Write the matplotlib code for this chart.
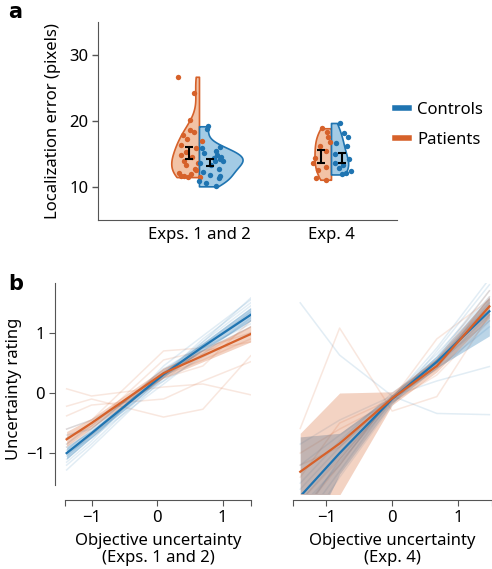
import numpy as np
import matplotlib
matplotlib.use("Agg")
import matplotlib.pyplot as plt
from matplotlib.lines import Line2D

plt.rcParams['font.family'] = ['Noto Sans', 'DejaVu Sans']
plt.rcParams['font.size'] = 12

BLUE = '#1f74b1'
ORANGE = '#d6612a'
BLUE_FILL = '#a3cbe5'
ORANGE_FILL = '#f2c3a6'

# ---------------- Panel a data ----------------
groups = ['Exps. 1 and 2', 'Exp. 4']
pat_e12 = [26.7, 24.3, 20.2, 18.6, 18.3, 17.9, 17.2, 16.9, 16.3, 15.9, 15.3, 14.9,
           14.6, 14.0, 13.6, 13.3, 12.8, 12.6, 12.1, 11.9, 11.6, 11.5, 11.5, 11.6]
pat_e12_jit = [-0.16, -0.04, -0.07, -0.07, -0.04, -0.12, -0.09, 0.02, -0.14, -0.02, -0.10, -0.14,
               -0.05, -0.11, -0.01, -0.10, -0.03, -0.02, -0.15, -0.06, -0.14, -0.08, 0.01, -0.11]
ctl_e12 = [19.2, 18.8, 16.1, 15.9, 15.4, 15.1, 14.8, 14.6, 14.4, 14.2, 14.0, 13.9,
           13.6, 13.4, 12.8, 12.2, 11.8, 11.6, 11.3, 10.9, 10.6, 10.1]
ctl_e12_jit = [0.07, 0.06, 0.16, 0.02, 0.13, 0.04, 0.14, 0.17, 0.11, 0.16, 0.12, 0.18,
               0.01, 0.09, 0.15, 0.03, 0.08, 0.16, 0.15, 0.00, 0.05, 0.13]
pat_e4 = [18.9, 18.4, 17.6, 16.8, 16.2, 15.4, 14.4, 13.7, 13.1, 12.6, 11.3, 11.1]
pat_e4_jit = [-0.07, -0.03, -0.02, -0.01, -0.08, -0.04, -0.12, -0.14, -0.04, -0.10, -0.11, -0.04]
ctl_e4 = [19.7, 18.2, 17.6, 16.6, 16.2, 15.0, 14.2, 13.6, 13.3, 12.9, 12.5, 12.1, 11.9]
ctl_e4_jit = [0.07, 0.10, 0.13, 0.04, 0.12, 0.03, 0.14, 0.03, 0.09, 0.06, 0.15, 0.11, 0.08]
pat_mean = [15.2, 14.6]
pat_sem = [0.9, 1.0]
ctl_mean = [13.7, 14.4]
ctl_sem = [0.5, 0.7]

# ---------------- Panel b data ----------------
xb_left = [-1.38, -1.0, 0.1, 0.7, 1.43]
ctl_mean_l = [-1.0, -0.67, 0.31, 0.77, 1.3]
ctl_lo_l = [-1.1, -0.74, 0.26, 0.71, 1.2]
ctl_hi_l = [-0.9, -0.61, 0.36, 0.84, 1.42]
pat_mean_l = [-0.77, -0.5, 0.33, 0.62, 0.98]
pat_lo_l = [-0.88, -0.58, 0.25, 0.52, 0.85]
pat_hi_l = [-0.64, -0.42, 0.41, 0.72, 1.12]
ctl_ind_l = [
    [-1.28, -0.9, 0.25, 0.85, 1.58],
    [-1.2, -0.85, 0.3, 0.9, 1.5],
    [-1.1, -0.75, 0.35, 0.85, 1.45],
    [-1.05, -0.7, 0.2, 0.75, 1.35],
    [-0.95, -0.6, 0.4, 0.8, 1.3],
    [-0.9, -0.65, 0.28, 0.7, 1.2],
    [-0.85, -0.55, 0.35, 0.75, 1.15],
    [-0.75, -0.5, 0.3, 0.7, 1.1],
    [-0.6, -0.45, 0.2, 0.6, 1.0],
    [-1.15, -0.8, 0.45, 0.95, 1.55],
    [-1.0, -0.75, 0.15, 0.65, 1.25],
    [-0.7, -0.6, 0.38, 0.8, 1.4],
]
pat_ind_l = [
    [0.07, -0.05, 0.1, 0.15, -0.03],
    [-0.22, -0.1, -0.4, -0.27, 0.62],
    [-0.38, -0.2, -0.1, 0.2, 0.52],
    [-0.6, -0.45, 0.7, 0.75, 1.0],
    [-0.9, -0.6, 0.4, 0.65, 1.1],
    [-1.0, -0.7, 0.3, 0.55, 0.9],
    [-0.75, -0.55, 0.55, 0.7, 0.85],
    [-0.85, -0.5, 0.25, 0.45, 1.2],
]

xb_right = [-1.4, -0.8, 0.0, 0.68, 1.48]
ctl_mean_r = [-1.72, -1.0, -0.1, 0.52, 1.36]
ctl_lo_r = [-2.7, -1.35, -0.17, 0.42, 0.95]
ctl_hi_r = [-0.73, -0.67, -0.03, 0.62, 1.6]
pat_mean_r = [-1.31, -0.84, -0.09, 0.45, 1.44]
pat_lo_r = [-1.95, -1.7, -0.2, 0.35, 1.25]
pat_hi_r = [-0.67, 0.0, 0.02, 0.58, 1.6]
ctl_ind_r = [
    [1.5, 0.63, -0.05, -0.34, -0.36],
    [-0.85, -0.45, -0.05, 0.2, 0.44],
    [-2.2, -1.3, -0.1, 0.6, 1.7],
    [-2.0, -1.15, -0.15, 0.5, 1.5],
    [-1.9, -1.2, -0.05, 0.65, 1.6],
    [-1.8, -1.05, -0.12, 0.55, 1.45],
    [-1.6, -0.9, -0.1, 0.45, 1.3],
    [-2.4, -1.4, -0.2, 0.7, 1.8],
    [-1.5, -0.8, 0.0, 0.5, 1.2],
    [-1.2, -0.7, -0.08, 0.4, 1.1],
    [-2.1, -1.1, -0.1, 0.75, 1.9],
]
pat_ind_r = [
    [-0.59, 1.08, -0.3, -0.06, 1.3],
    [-1.4, -0.5, -0.1, 0.9, 1.55],
    [-1.8, -1.1, -0.1, 0.4, 1.6],
    [-1.2, -0.9, -0.05, 0.5, 1.45],
    [-1.0, -0.6, -0.15, 0.3, 1.2],
    [-2.0, -1.2, -0.05, 0.55, 1.7],
]

W, H = 492, 569
fig = plt.figure(figsize=(W / 100, H / 100), dpi=100)


def box(l, t, r, b):
    return [l / W, 1 - b / H, (r - l) / W, (b - t) / H]


# ---------------- Panel a ----------------
axa = fig.add_axes(box(98, 22, 397, 220))
pos = [0, 1]
pat_sets = [pat_e12, pat_e4]
ctl_sets = [ctl_e12, ctl_e4]
pat_w = [0.42, 0.25]
ctl_w = [0.66, 0.26]
bws = ['scott', 0.7]
for i in range(2):
    vp = axa.violinplot([pat_sets[i]], positions=[pos[i]], widths=pat_w[i], side='low',
                        showextrema=False, bw_method=bws[i])
    for b in vp['bodies']:
        b.set_facecolor(ORANGE_FILL); b.set_edgecolor(ORANGE); b.set_alpha(1)
        b.set_linewidth(1.2); b.set_zorder(1)
    vp = axa.violinplot([ctl_sets[i]], positions=[pos[i]], widths=ctl_w[i], side='high',
                        showextrema=False, bw_method=bws[i])
    for b in vp['bodies']:
        b.set_facecolor(BLUE_FILL); b.set_edgecolor(BLUE); b.set_alpha(1)
        b.set_linewidth(1.2); b.set_zorder(1)

axa.scatter(np.array(pat_e12_jit) + pos[0], pat_e12, s=15, color=ORANGE, zorder=3, lw=0)
axa.scatter(np.array(ctl_e12_jit) + pos[0], ctl_e12, s=15, color=BLUE, zorder=3, lw=0)
axa.scatter(np.array(pat_e4_jit) + pos[1], pat_e4, s=15, color=ORANGE, zorder=3, lw=0)
axa.scatter(np.array(ctl_e4_jit) + pos[1], ctl_e4, s=15, color=BLUE, zorder=3, lw=0)
axa.errorbar(np.array(pos) - 0.075, pat_mean, yerr=pat_sem, fmt='none', ecolor='black',
             elinewidth=1.5, capsize=3, capthick=1.5, zorder=4)
axa.errorbar(np.array(pos) + 0.08, ctl_mean, yerr=ctl_sem, fmt='none', ecolor='black',
             elinewidth=1.5, capsize=3, capthick=1.5, zorder=4)

axa.set_xlim(-0.765, 1.5)
axa.set_ylim(5, 35)
axa.set_yticks([10, 20, 30])
axa.set_xticks(pos)
axa.set_xticklabels(groups)
axa.tick_params(axis='x', length=0, pad=5)
axa.tick_params(axis='y', length=4, width=1, color='#555555', pad=3)
axa.set_ylabel('Localization error (pixels)', labelpad=6)
for s in ['top', 'right']:
    axa.spines[s].set_visible(False)
for s in ['left', 'bottom']:
    axa.spines[s].set_color('#555555')

handles = [Line2D([], [], color=BLUE, lw=4), Line2D([], [], color=ORANGE, lw=4)]
fig.legend(handles, ['Controls', 'Patients'], loc='center left',
           bbox_to_anchor=(395 / W, 1 - 125 / H), frameon=False, handlelength=0.85,
           handletextpad=0.5, labelspacing=0.85, fontsize=12, borderpad=0,
           borderaxespad=0)

fig.text(8 / W, 1 - 18 / H, 'a', fontsize=15, fontweight='bold', va='baseline',
         family='DejaVu Sans')
fig.text(8 / W, 1 - 290 / H, 'b', fontsize=15, fontweight='bold', va='baseline',
         family='DejaVu Sans')

# ---------------- Panel b ----------------
YLIM = (-1.68, 1.83)


def panel_b(ax, xs, cm, clo, chi, pm, plo, phi, cind, pind):
    for row in pind:
        ax.plot(xs, row, color=ORANGE, alpha=0.15, lw=1.1, zorder=1)
    for row in cind:
        ax.plot(xs, row, color=BLUE, alpha=0.13, lw=1.1, zorder=1)
    ax.fill_between(xs, clo, chi, color=BLUE, alpha=0.3, lw=0, zorder=2)
    ax.fill_between(xs, plo, phi, color=ORANGE, alpha=0.28, lw=0, zorder=2)
    ax.plot(xs, cm, color=BLUE, lw=1.6, zorder=3)
    ax.plot(xs, pm, color=ORANGE, lw=1.6, zorder=4)
    ax.set_ylim(*YLIM)
    for s in ['top', 'right']:
        ax.spines[s].set_visible(False)
    ax.spines['bottom'].set_position(('outward', 4))
    ax.spines['bottom'].set_color('#555555')
    ax.spines['left'].set_color('#555555')
    ax.tick_params(length=4, color='#555555')


axl = fig.add_axes(box(65, 283, 251, 494))
panel_b(axl, xb_left, ctl_mean_l, ctl_lo_l, ctl_hi_l, pat_mean_l, pat_lo_l, pat_hi_l,
        ctl_ind_l, pat_ind_l)
axl.set_xlim(-1.405, 1.435)
axl.set_xticks([-1.405, -1, 0, 1, 1.435])
axl.set_xticklabels(['', '−1', '0', '1', ''])
axl.set_yticks([-1, 0, 1])
axl.set_yticklabels(['−1', '0', '1'])
axl.spines['left'].set_position(('outward', 7))
axl.spines['left'].set_bounds(-1.53, 1.83)
axl.set_ylabel('Uncertainty rating', labelpad=3)
axl.set_xlabel('Objective uncertainty\n(Exps. 1 and 2)', linespacing=1.05, labelpad=5)

axr = fig.add_axes(box(293, 283, 492, 494))
panel_b(axr, xb_right, ctl_mean_r, ctl_lo_r, ctl_hi_r, pat_mean_r, pat_lo_r, pat_hi_r,
        ctl_ind_r, pat_ind_r)
axr.set_xlim(-1.51, 1.52)
axr.set_xticks([-1.51, -1, 0, 1, 1.52])
axr.set_xticklabels(['', '−1', '0', '1', ''])
axr.spines['left'].set_visible(False)
axr.set_yticks([])
axr.set_xlabel('Objective uncertainty\n(Exp. 4)', linespacing=1.05, labelpad=5)

fig.savefig('out.png', dpi=100)
